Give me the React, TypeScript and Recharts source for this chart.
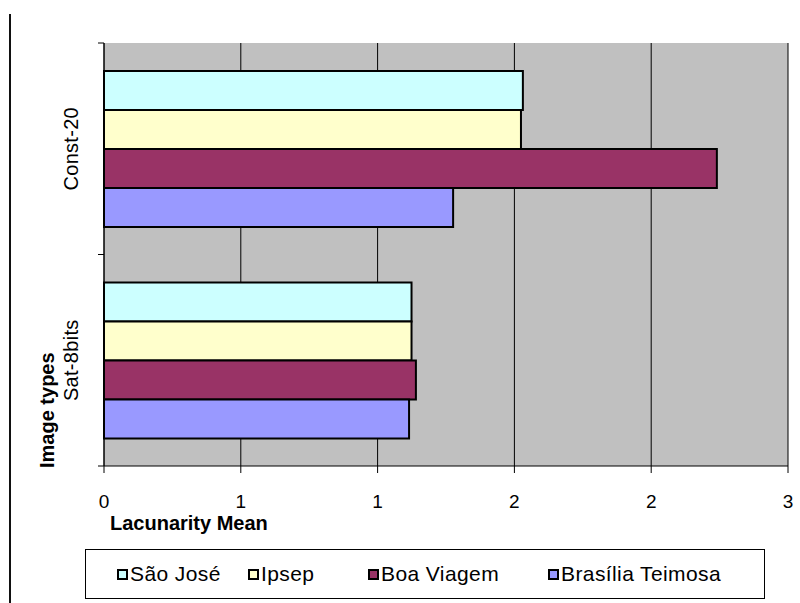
import React from 'react';
import { BarChart, Bar, XAxis, YAxis, CartesianGrid, Legend } from 'recharts';

// Lacunarity mean per image type and neighbourhood
const imageTypes = ['Const-20', 'Sat-8bits'];
const saoJose = [1.531, 1.124];
const ipsep = [1.524, 1.124];
const boaViagem = [2.24, 1.14];
const brasiliaTeimosa = [1.276, 1.115];

const xTicks = [0, 0.5, 1, 1.5, 2, 2.5];

const seriesKeys = ['saoJose', 'ipsep', 'boaViagem', 'brasiliaTeimosa'];
const seriesNames = ['São José', 'Ipsep', 'Boa Viagem', 'Brasília Teimosa'];
const seriesColors = ['#CCFFFF', '#FFFFCC', '#993366', '#9999FF'];

const data = imageTypes.map((type, i) => ({
  type,
  saoJose: saoJose[i],
  ipsep: ipsep[i],
  boaViagem: boaViagem[i],
  brasiliaTeimosa: brasiliaTeimosa[i],
}));

const FONT = '"Liberation Sans", Arial, sans-serif';

// Category labels written vertically, with tick marks on the band edges
const CategoryTick = (props: any) => {
  const { x, y, payload, index, visibleTicksCount } = props;
  const half = payload && payload.offset ? payload.offset : 0;
  const axisX = x + 8;
  const lx = x - 25;
  return (
    <g>
      <line x1={axisX - 6} x2={axisX} y1={y - half} y2={y - half} stroke="#000" strokeWidth={1} />
      {index === visibleTicksCount - 1 && (
        <line x1={axisX - 6} x2={axisX} y1={y + half} y2={y + half} stroke="#000" strokeWidth={1} />
      )}
      <text
        x={lx}
        y={y}
        transform={`rotate(-90 ${lx} ${y})`}
        textAnchor="middle"
        dominantBaseline="central"
        fontFamily={FONT}
        fontSize={20}
        letterSpacing={0.3}
        fill="#000"
      >
        {payload.value}
      </text>
    </g>
  );
};

const YTitle = (props: any) => {
  const { viewBox } = props;
  const tx = viewBox.x + 3;
  const ty = viewBox.y + viewBox.height + 2;
  return (
    <text
      x={tx}
      y={ty}
      transform={`rotate(-90 ${tx} ${ty})`}
      textAnchor="start"
      dominantBaseline="central"
      fontFamily={FONT}
      fontSize={20}
      fontWeight="bold"
      fill="#000"
    >
      Image types
    </text>
  );
};

const XTitle = (props: any) => {
  const { viewBox } = props;
  return (
    <text
      x={viewBox.x + 6}
      y={viewBox.y + 57}
      textAnchor="start"
      dominantBaseline="central"
      fontFamily={FONT}
      fontSize={20}
      fontWeight="bold"
      fill="#000"
    >
      Lacunarity Mean
    </text>
  );
};

const itemLeft = [31, 162, 282, 462];

const LegendBox = () => (
  <div
    style={{
      position: 'relative',
      width: 680,
      height: 50,
      boxSizing: 'border-box',
      border: '1px solid #000',
      background: '#fff',
      fontFamily: FONT,
      fontSize: 21,
      letterSpacing: 0.4,
      color: '#000',
    }}
  >
    {seriesNames.map((name, i) => (
      <div
        key={name}
        style={{
          position: 'absolute',
          left: itemLeft[i],
          top: 0,
          height: 48,
          display: 'flex',
          alignItems: 'center',
          whiteSpace: 'nowrap',
        }}
      >
        <span
          style={{
            display: 'inline-block',
            width: 7,
            height: 7,
            border: '2px solid #000',
            background: seriesColors[i],
            marginRight: 2,
            marginTop: 1,
          }}
        />
        <span>{name}</span>
      </div>
    ))}
  </div>
);

export default function App() {
  return (
    <div style={{ position: 'absolute', left: 0, top: 0, width: 800, height: 603, background: '#fff' }}>
      <div
        style={{
          position: 'absolute',
          left: 9,
          top: 14,
          width: 0,
          height: 589,
          borderLeft: '2px solid #111',
        }}
      />
      <BarChart
        width={800}
        height={603}
        data={data}
        layout="vertical"
        margin={{ top: 43, right: 12, bottom: 97, left: 44 }}
        barCategoryGap={28}
        barGap={0}
      >
        <CartesianGrid horizontal={false} vertical stroke="#000" strokeWidth={1} fill="#C0C0C0" fillOpacity={1} />
        <XAxis
          type="number"
          domain={[0, 2.5]}
          ticks={xTicks}
          tickFormatter={(v: number) => String(Math.round(v))}
          height={40}
          tickSize={7}
          tickMargin={22}
          axisLine={{ stroke: '#000' }}
          tickLine={{ stroke: '#000' }}
          tick={{ fill: '#000', fontSize: 19, fontFamily: FONT }}
          label={<XTitle />}
        />
        <YAxis
          type="category"
          dataKey="type"
          width={60}
          axisLine={{ stroke: '#000' }}
          tickLine={false}
          tick={<CategoryTick />}
          label={<YTitle />}
        />
        <Legend
          layout="horizontal"
          verticalAlign="middle"
          align="center"
          wrapperStyle={{ left: 85, top: 549, width: 680, height: 50 }}
          content={() => <LegendBox />}
        />
        {seriesKeys.map((k, i) => (
          <Bar
            key={k}
            dataKey={k}
            name={seriesNames[i]}
            fill={seriesColors[i]}
            stroke="#000"
            strokeWidth={2}
            isAnimationActive={false}
          />
        ))}
      </BarChart>
    </div>
  );
}
